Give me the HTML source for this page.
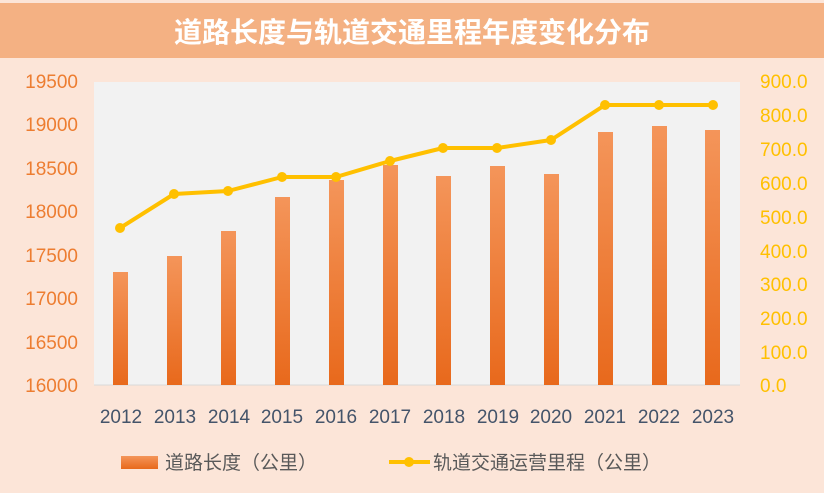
<!DOCTYPE html>
<html><head><meta charset="utf-8"><style>
body{margin:0;width:824px;height:493px;overflow:hidden;background:#fce5d8;}
svg{display:block}
text{font-family:"Liberation Sans","Noto Sans CJK SC",sans-serif}
</style></head><body>
<svg width="824" height="493" xmlns="http://www.w3.org/2000/svg">
<defs>
<linearGradient id="bg" x1="0" y1="0" x2="0" y2="1"><stop offset="0" stop-color="#f4955a"/><stop offset="1" stop-color="#e8691c"/></linearGradient>
</defs>
<rect x="0" y="0" width="824" height="493" fill="#fce5d8"/>
<rect x="0" y="3" width="824" height="55" fill="#f4b183"/>
<text x="412" y="42" text-anchor="middle" font-size="28" fill="#fff" font-weight="bold">道路长度与轨道交通里程年度变化分布</text>
<rect x="94" y="82" width="646" height="303" fill="#f2f2f2"/>
<line x1="94" y1="385" x2="740" y2="385" stroke="#d9d9d9" stroke-width="1"/>
<g font-size="19" fill="#ed7d31" text-anchor="end">
<text x="78" y="88">19500</text><text x="78" y="131">19000</text><text x="78" y="175">18500</text><text x="78" y="218">18000</text><text x="78" y="262">17500</text><text x="78" y="305">17000</text><text x="78" y="349">16500</text><text x="78" y="392">16000</text>
</g>
<g font-size="19" fill="#ffc000" text-anchor="start">
<text x="760" y="88">900.0</text><text x="760" y="122">800.0</text><text x="760" y="156">700.0</text><text x="760" y="190">600.0</text><text x="760" y="224">500.0</text><text x="760" y="258">400.0</text><text x="760" y="291">300.0</text><text x="760" y="325">200.0</text><text x="760" y="359">100.0</text><text x="760" y="392">0.0</text>
</g>
<g fill="url(#bg)">
<rect x="113" y="272" width="15" height="113"/>
<rect x="167" y="256" width="15" height="129"/>
<rect x="221" y="231" width="15" height="154"/>
<rect x="275" y="197" width="15" height="188"/>
<rect x="329" y="180" width="15" height="205"/>
<rect x="383" y="165" width="15" height="220"/>
<rect x="436" y="176" width="15" height="209"/>
<rect x="490" y="166" width="15" height="219"/>
<rect x="544" y="174" width="15" height="211"/>
<rect x="598" y="132" width="15" height="253"/>
<rect x="652" y="126" width="15" height="259"/>
<rect x="705" y="130" width="15" height="255"/>
</g>
<polyline fill="none" stroke="#ffc000" stroke-width="4" stroke-linejoin="round" points="120,228 174,194 228,191 282,177 336,177 390,161 443,148 497,148 551,140 605,105 659,105 713,105"/>
<g fill="#ffc000">
<circle cx="120" cy="228" r="5"/><circle cx="174" cy="194" r="5"/><circle cx="228" cy="191" r="5"/><circle cx="282" cy="177" r="5"/><circle cx="336" cy="177" r="5"/><circle cx="390" cy="161" r="5"/><circle cx="443" cy="148" r="5"/><circle cx="497" cy="148" r="5"/><circle cx="551" cy="140" r="5"/><circle cx="605" cy="105" r="5"/><circle cx="659" cy="105" r="5"/><circle cx="713" cy="105" r="5"/>
</g>
<g font-size="19" fill="#44546a" text-anchor="middle">
<text x="121" y="423">2012</text><text x="175" y="423">2013</text><text x="229" y="423">2014</text><text x="282" y="423">2015</text><text x="336" y="423">2016</text><text x="390" y="423">2017</text><text x="444" y="423">2018</text><text x="498" y="423">2019</text><text x="551" y="423">2020</text><text x="605" y="423">2021</text><text x="659" y="423">2022</text><text x="713" y="423">2023</text>
</g>
<rect x="121" y="456" width="37" height="13" fill="url(#bg)"/>
<text x="165" y="469" font-size="19" fill="#595959">道路长度（公里）</text>
<line x1="389" y1="462" x2="430" y2="462" stroke="#ffc000" stroke-width="4"/>
<circle cx="409" cy="462" r="5" fill="#ffc000"/>
<text x="433" y="469" font-size="19" fill="#595959">轨道交通运营里程（公里）</text>
</svg>
</body></html>
